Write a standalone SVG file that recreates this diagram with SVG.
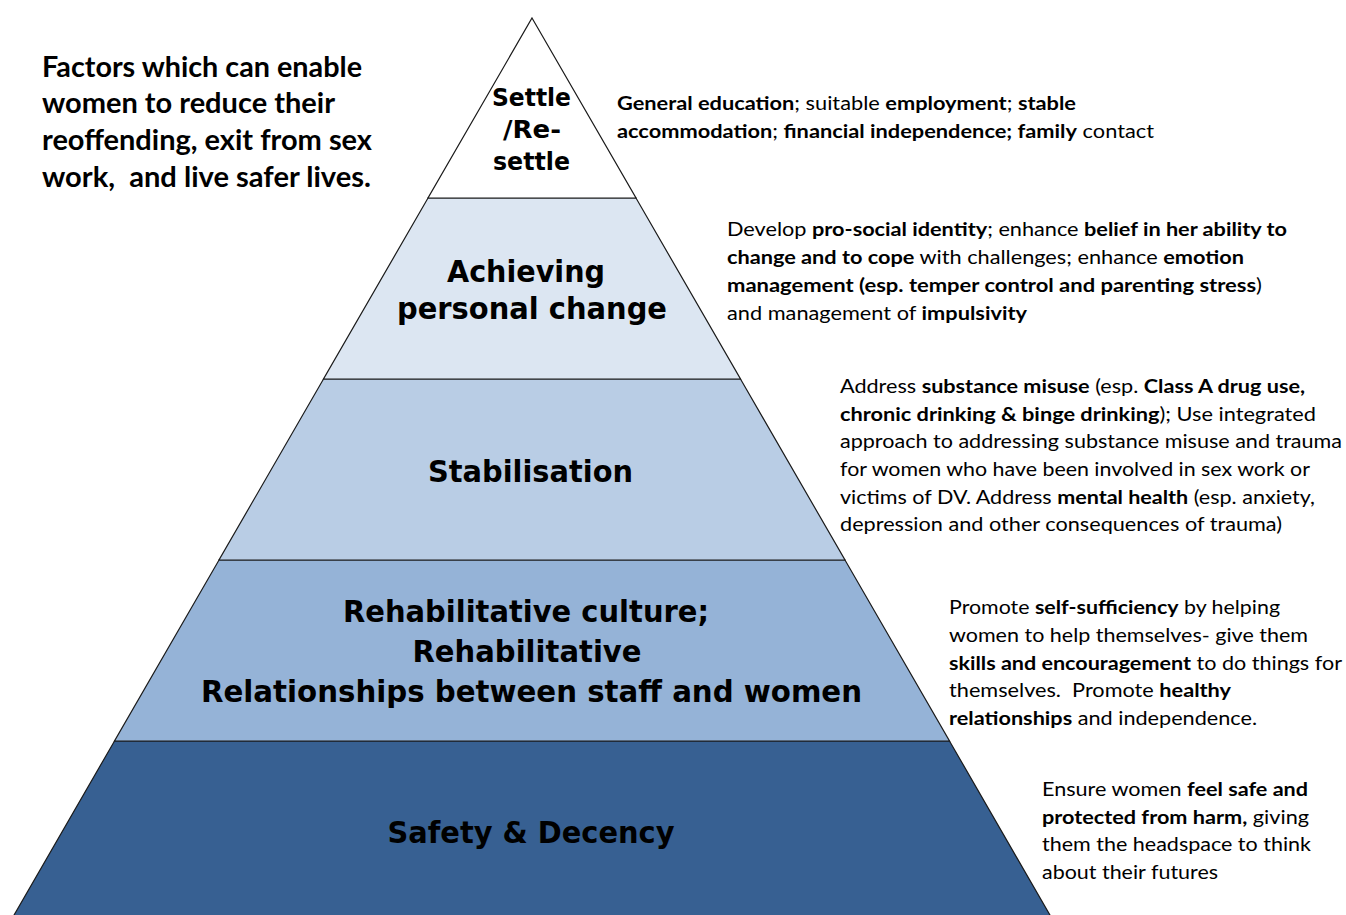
<svg xmlns="http://www.w3.org/2000/svg" width="1346" height="915" viewBox="0 0 1346 915">
  <style>
    .tier { stroke: #1a1a1a; stroke-width: 1.2; stroke-linejoin: miter; }
    .lbl { font-family: "DejaVu Sans", Verdana, sans-serif; font-weight: bold; fill: #000; text-anchor: middle; }
    .note { font-family: Lato, "Open Sans", "Liberation Sans", sans-serif; font-size: 19.5px; fill: #000; }
    .note tspan.b { font-weight: bold; }
    .title { font-family: Lato, "Open Sans", "Liberation Sans", sans-serif; font-size: 28px; font-weight: bold; fill: #000; }
  </style>

  <rect width="1346" height="915" fill="#ffffff"/>

  <!-- heading -->
  <g id="heading" class="title">
    <text x="42" y="77" textLength="320" lengthAdjust="spacingAndGlyphs">Factors which can enable</text>
    <text x="42" y="113" textLength="293" lengthAdjust="spacingAndGlyphs">women to reduce their</text>
    <text x="42" y="150" textLength="330" lengthAdjust="spacingAndGlyphs">reoffending, exit from sex</text>
    <text x="42" y="187" textLength="329" lengthAdjust="spacingAndGlyphs" xml:space="preserve">work,  and live safer lives.</text>
  </g>

  <!-- pyramid tiers, bottom to top -->
  <g id="tier-safety">
    <polygon class="tier" fill="#376092" points="114.5,741 949.5,741 1050.5,916 13.5,916"/>
    <text class="lbl" x="531" y="843" font-size="30.5" textLength="287" lengthAdjust="spacingAndGlyphs">Safety &amp; Decency</text>
  </g>

  <g id="tier-rehabilitative">
    <polygon class="tier" fill="#95B3D7" points="219,560 845,560 949.5,741 114.5,741"/>
    <text class="lbl" x="526" y="622" font-size="30.5" textLength="366" lengthAdjust="spacingAndGlyphs">Rehabilitative culture;</text>
    <text class="lbl" x="527" y="662" font-size="30.5" textLength="229" lengthAdjust="spacingAndGlyphs">Rehabilitative</text>
    <text class="lbl" x="531.5" y="702" font-size="30.5" textLength="661" lengthAdjust="spacingAndGlyphs">Relationships between staff and women</text>
  </g>

  <g id="tier-stabilisation">
    <polygon class="tier" fill="#B9CDE5" points="323.5,379 740.5,379 845,560 219,560"/>
    <text class="lbl" x="530.5" y="482" font-size="30.5" textLength="205" lengthAdjust="spacingAndGlyphs">Stabilisation</text>
  </g>

  <g id="tier-personal-change">
    <polygon class="tier" fill="#DCE6F2" points="428,198 636,198 740.5,379 323.5,379"/>
    <text class="lbl" x="526" y="282" font-size="30.5" textLength="158" lengthAdjust="spacingAndGlyphs">Achieving</text>
    <text class="lbl" x="532" y="319" font-size="30.5" textLength="270" lengthAdjust="spacingAndGlyphs">personal change</text>
  </g>

  <g id="tier-settle">
    <polygon class="tier" fill="#FFFFFF" points="532,18 636,198 428,198"/>
    <text class="lbl" x="531.5" y="106" font-size="25" textLength="79" lengthAdjust="spacingAndGlyphs">Settle</text>
    <text class="lbl" x="532" y="138" font-size="25" textLength="58" lengthAdjust="spacingAndGlyphs">/Re-</text>
    <text class="lbl" x="531.5" y="170" font-size="25" textLength="77" lengthAdjust="spacingAndGlyphs">settle</text>
  </g>

  <!-- descriptions beside each tier -->
  <g id="note-settle" class="note">
    <text x="617" y="110" textLength="459" lengthAdjust="spacingAndGlyphs"><tspan class="b">General education</tspan>; suitable <tspan class="b">employment</tspan>; <tspan class="b">stable</tspan></text>
    <text x="617" y="138" textLength="537" lengthAdjust="spacingAndGlyphs"><tspan class="b">accommodation</tspan>; <tspan class="b">financial independence; family</tspan> contact</text>
  </g>

  <g id="note-personal-change" class="note">
    <text x="727" y="236" textLength="560" lengthAdjust="spacingAndGlyphs">Develop <tspan class="b">pro-social identity</tspan>; enhance <tspan class="b">belief in her ability to</tspan></text>
    <text x="727" y="264" textLength="517" lengthAdjust="spacingAndGlyphs"><tspan class="b">change and to cope</tspan> with challenges; enhance <tspan class="b">emotion</tspan></text>
    <text x="727" y="292" textLength="535" lengthAdjust="spacingAndGlyphs"><tspan class="b">management (esp. temper control and parenting stress</tspan>)</text>
    <text x="727" y="320" textLength="300" lengthAdjust="spacingAndGlyphs">and management of <tspan class="b">impulsivity</tspan></text>
  </g>

  <g id="note-stabilisation" class="note">
    <text x="840" y="393" textLength="465" lengthAdjust="spacingAndGlyphs">Address <tspan class="b">substance misuse</tspan> (esp. <tspan class="b">Class A drug use,</tspan></text>
    <text x="840" y="420.5" textLength="476" lengthAdjust="spacingAndGlyphs"><tspan class="b">chronic drinking &amp; binge drinking</tspan>); Use integrated</text>
    <text x="840" y="448" textLength="502" lengthAdjust="spacingAndGlyphs">approach to addressing substance misuse and trauma</text>
    <text x="840" y="476" textLength="470" lengthAdjust="spacingAndGlyphs">for women who have been involved in sex work or</text>
    <text x="840" y="503.5" textLength="475" lengthAdjust="spacingAndGlyphs">victims of DV. Address <tspan class="b">mental health</tspan> (esp. anxiety,</text>
    <text x="840" y="531" textLength="442" lengthAdjust="spacingAndGlyphs">depression and other consequences of trauma)</text>
  </g>

  <g id="note-rehabilitative" class="note">
    <text x="949" y="614" textLength="331" lengthAdjust="spacingAndGlyphs">Promote <tspan class="b">self-sufficiency</tspan> by helping</text>
    <text x="949" y="642" textLength="359" lengthAdjust="spacingAndGlyphs">women to help themselves- give them</text>
    <text x="949" y="669.5" textLength="393" lengthAdjust="spacingAndGlyphs"><tspan class="b">skills and encouragement</tspan> to do things for</text>
    <text x="949" y="697" textLength="282" lengthAdjust="spacingAndGlyphs" xml:space="preserve">themselves.  Promote <tspan class="b">healthy</tspan></text>
    <text x="949" y="725" textLength="308" lengthAdjust="spacingAndGlyphs"><tspan class="b">relationships</tspan> and independence.</text>
  </g>

  <g id="note-safety" class="note">
    <text x="1042" y="796" textLength="266" lengthAdjust="spacingAndGlyphs">Ensure women <tspan class="b">feel safe and</tspan></text>
    <text x="1042" y="824" textLength="267" lengthAdjust="spacingAndGlyphs"><tspan class="b">protected from harm,</tspan> giving</text>
    <text x="1042" y="851" textLength="269" lengthAdjust="spacingAndGlyphs">them the headspace to think</text>
    <text x="1042" y="879" textLength="176" lengthAdjust="spacingAndGlyphs">about their futures</text>
  </g>
</svg>
